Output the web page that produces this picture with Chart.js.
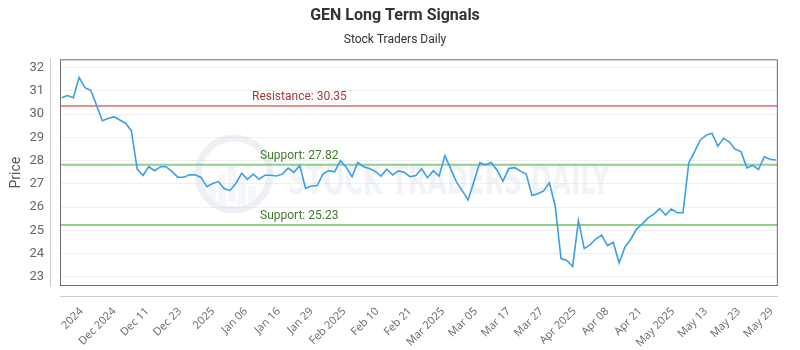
<!DOCTYPE html>
<html>
<head>
<meta charset="utf-8">
<style>
  html, body { margin: 0; padding: 0; background: #fff; }
  #wrap { width: 800px; height: 350px; }
</style>
</head>
<body>
<div id="wrap"><canvas id="myChart"></canvas></div>
<script src="https://cdn.jsdelivr.net/npm/chart.js@4.4.1/dist/chart.umd.min.js"></script>
<script>
// daily closes (one per trading day)
const prices = [
  30.71, 30.80, 30.71, 31.58, 31.14, 31.03, 30.39, 29.72, 29.81, 29.89,
  29.75, 29.61, 29.29, 27.64, 27.36, 27.74, 27.57, 27.74, 27.74, 27.53,
  27.29, 27.29, 27.39, 27.39, 27.28, 26.88, 27.02, 27.10, 26.79, 26.72,
  27.02, 27.46, 27.20, 27.42, 27.20, 27.37, 27.37, 27.34, 27.42, 27.68,
  27.50, 27.79, 26.81, 26.91, 26.93, 27.42, 27.57, 27.52, 28.00, 27.72,
  27.31, 27.92, 27.74, 27.66, 27.54, 27.34, 27.63, 27.39, 27.56, 27.50,
  27.31, 27.36, 27.65, 27.27, 27.57, 27.34, 28.22, 27.65, 27.08, 26.70,
  26.31, 27.10, 27.91, 27.82, 27.92, 27.58, 27.12, 27.66, 27.70, 27.55,
  27.42, 26.50, 26.58, 26.70, 27.05, 26.04, 23.79, 23.71, 23.45, 25.42,
  24.22, 24.38, 24.64, 24.80, 24.35, 24.49, 23.60, 24.28, 24.62, 25.06,
  25.28, 25.54, 25.70, 25.94, 25.66, 25.92, 25.76, 25.76, 27.90, 28.39,
  28.89, 29.10, 29.18, 28.62, 28.96, 28.80, 28.49, 28.39, 27.69, 27.80,
  27.62, 28.17, 28.06, 28.03
];

const tickLabels = [
  '2024', 'Dec 2024', 'Dec 11', 'Dec 23', '2025', 'Jan 06', 'Jan 16', 'Jan 29',
  'Feb 2025', 'Feb 10', 'Feb 21', 'Mar 2025', 'Mar 05', 'Mar 17', 'Mar 27',
  'Apr 2025', 'Apr 08', 'Apr 21', 'May 2025', 'May 13', 'May 23', 'May 29'
];
const priceTicks = [23, 24, 25, 26, 27, 28, 29, 30, 31, 32];

const levels = [30.35, 27.82, 25.23];
const levelNames = ['Resistance', 'Support', 'Support'];

const levelColors = ['rgba(215,100,100,0.7)', 'rgba(110,190,100,0.75)', 'rgba(110,190,100,0.75)'];
const levelTextColors = ['#a83a3a', '#3f7a2e', '#3f7a2e'];
const levelLabelX = [252, 260, 260];

const decor = {
  id: 'decor',
  beforeDatasetsDraw(chart) {
    const {ctx, chartArea: a, scales: {y}} = chart;
    ctx.save();

    // watermark logo
    const cx = 234, cy = 174, r = 36;
    ctx.strokeStyle = 'rgba(175,192,210,0.22)';
    ctx.lineWidth = 7;
    ctx.beginPath(); ctx.arc(cx, cy, r, 0, Math.PI * 2); ctx.stroke();
    ctx.save();
    ctx.beginPath(); ctx.arc(cx, cy, r - 4, 0, Math.PI * 2); ctx.clip();
    ctx.fillStyle = 'rgba(185,200,215,0.16)';
    [[-22, 10], [-12, 0], [-2, -8], [8, 2], [18, 12]].forEach(([dx, h]) => {
      ctx.fillRect(cx + dx - 4, cy + h, 8, r);
    });
    ctx.restore();

    // watermark text
    ctx.font = 'bold 40px "Liberation Sans Narrow", "DejaVu Sans Condensed", sans-serif';
    ctx.fillStyle = 'rgba(175,190,205,0.18)';
    ctx.textBaseline = 'alphabetic';
    const txt = 'STOCK TRADERS DAILY';
    const w = ctx.measureText(txt).width;
    ctx.save();
    ctx.translate(288, 194);
    ctx.scale(322 / w, 1);
    ctx.fillText(txt, 0, 0);
    ctx.restore();

    // support / resistance
    levels.forEach((v, k) => {
      const py = y.getPixelForValue(v);
      ctx.strokeStyle = levelColors[k];
      ctx.lineWidth = 2;
      ctx.beginPath(); ctx.moveTo(a.left, py); ctx.lineTo(a.right, py); ctx.stroke();
      ctx.fillStyle = levelTextColors[k];
      ctx.font = '12px Roboto';
      ctx.textBaseline = 'middle';
      ctx.textAlign = 'left';
      ctx.fillText(levelNames[k] + ': ' + v.toFixed(2), levelLabelX[k], py - 9);
    });
    ctx.restore();
  },
  afterDraw(chart) {
    const {ctx, chartArea: a} = chart;
    ctx.save();
    ctx.lineWidth = 1;
    ctx.strokeStyle = '#6e6e6e';
    ctx.strokeRect(a.left + 0.5, a.top + 0.5, a.right - a.left - 1, a.bottom - a.top - 1);
    ctx.strokeStyle = '#ccc';
    ctx.beginPath();
    ctx.moveTo(50.5, a.top - 1); ctx.lineTo(50.5, a.bottom + 1);
    ctx.moveTo(a.left, a.bottom + 10.5); ctx.lineTo(a.right, a.bottom + 10.5);
    ctx.stroke();
    ctx.restore();
  }
};

new Chart(document.getElementById('myChart'), {
  type: 'line',
  data: {
    datasets: [{
      label: 'GEN',
      data: prices.map((p, i) => ({x: i, y: p})),
      borderColor: '#3a9fe6',
      backgroundColor: '#3a9fe6',
      borderWidth: 1.6,
      pointRadius: 0,
      tension: 0
    }]
  },
  options: {
    responsive: true,
    maintainAspectRatio: false,
    animation: false,
    layout: { padding: { left: 0, right: 10, top: 0, bottom: 0 } },
    plugins: {
      legend: { display: false },
      tooltip: { enabled: false },
      title: {
        display: true,
        text: 'GEN Long Term Signals',
        color: '#333',
        font: { family: 'Roboto', size: 16, weight: 'bold' },
        padding: { top: 6, bottom: 6 }
      },
      subtitle: {
        display: true,
        text: 'Stock Traders Daily',
        color: '#333',
        font: { family: 'Roboto', size: 12 },
        padding: { top: 2, bottom: 11.7 }
      }
    },
    scales: {
      x: {
        type: 'linear',
        min: -0.29,
        max: 123.34,
        grid: { display: false, drawTicks: false },
        border: { display: false },
        afterBuildTicks: axis => {
          axis.ticks = tickLabels.map((l, k) => ({ value: 3.4 + k * 5.66 }));
        },
        afterFit: scale => { scale.height = 64; },
        ticks: {
          autoSkip: false,
          minRotation: 45,
          maxRotation: 45,
          padding: 19,
          color: '#666',
          font: { family: 'Open Sans', size: 11 },
          callback: (v, i) => tickLabels[i]
        }
      },
      y: {
        min: 22.61,
        max: 32.36,
        grid: { color: 'rgba(0,0,0,0.06)', drawTicks: false },
        border: { display: false },
        afterBuildTicks: axis => {
          axis.ticks = priceTicks.map(v => ({ value: v }));
        },
        afterFit: scale => { scale.width = 60; },
        ticks: {
          padding: 16,
          color: '#666',
          font: { family: 'Roboto', size: 13 }
        },
        title: {
          display: true,
          text: 'Price',
          color: '#555',
          font: { family: 'Roboto', size: 14 },
          padding: { top: 8, bottom: 0 }
        }
      }
    }
  },
  plugins: [decor]
});
</script>
</body>
</html>
